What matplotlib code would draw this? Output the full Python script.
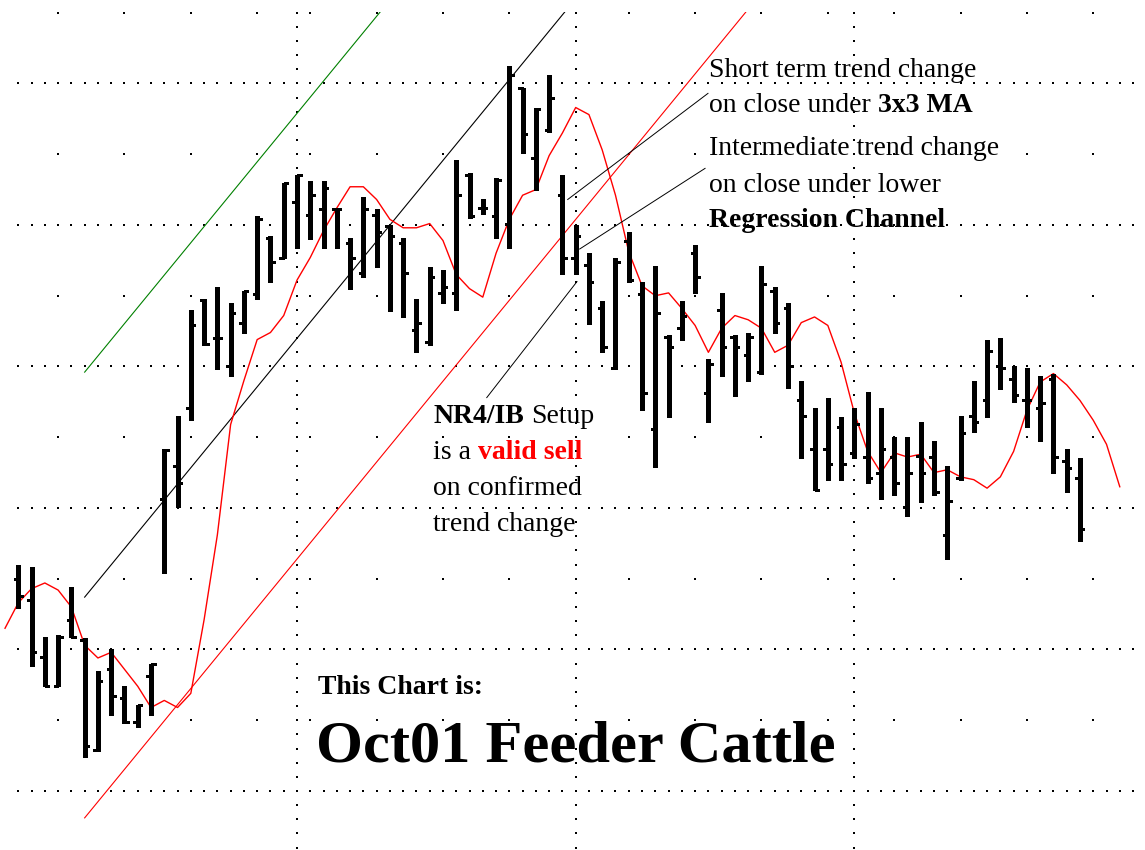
#!/usr/bin/env python3
# -*- coding: utf-8 -*-

import matplotlib
matplotlib.use('Agg')
import matplotlib.pyplot as plt
import numpy as np

# 日足 (bar index 0..80)
highs = [87.60, 87.58, 87.09, 87.10, 87.44, 87.08, 86.85, 87.00, 86.74, 86.61, 86.90,
         88.42, 88.65, 89.40, 89.48, 89.56, 89.45, 89.53, 90.06, 89.92, 90.30,
         90.35, 90.31, 90.31, 90.12, 89.91, 90.20, 90.11, 90.00, 89.91, 89.48,
         89.70, 89.68, 90.46, 90.37, 90.18, 90.33, 91.12, 90.97, 90.83, 91.06,
         90.35, 90.00, 89.80, 89.46, 89.77, 89.95, 89.60, 89.71, 89.22, 89.46,
         89.86, 89.05, 89.52, 89.22, 89.24, 89.71, 89.56, 89.45, 88.90, 88.71,
         88.78, 88.64, 88.71, 88.82, 88.71, 88.50, 88.50, 88.61, 88.47, 88.30,
         88.65, 88.90, 89.19, 89.20, 89.00, 88.99, 88.93, 88.95, 88.42, 88.35]
lows = [87.29, 86.88, 86.74, 86.74, 87.09, 86.24, 86.28, 86.54, 86.48, 86.45, 86.54,
        87.54, 88.01, 88.62, 89.15, 88.98, 88.93, 89.24, 89.48, 89.60, 89.77,
        89.84, 89.90, 89.84, 89.84, 89.55, 89.63, 89.70, 89.39, 89.35, 89.10,
        89.15, 89.45, 89.40, 90.05, 90.08, 89.91, 89.84, 90.51, 90.25, 90.66,
        89.65, 89.65, 89.30, 89.10, 88.98, 89.60, 88.69, 88.29, 88.64, 89.19,
        89.52, 88.61, 88.93, 88.79, 88.90, 88.95, 89.24, 88.85, 88.35, 88.13,
        88.20, 88.20, 88.35, 88.18, 88.06, 88.09, 87.94, 88.04, 88.09, 87.64,
        88.20, 88.54, 88.64, 88.84, 88.75, 88.57, 88.47, 88.25, 88.11, 87.77]
opens = [87.50, 87.35, 86.95, 86.74, 87.21, 87.07, 86.29, 86.86, 86.66, 86.49, 86.81,
         88.06, 88.30, 88.71, 89.47, 89.20, 89.00, 89.31, 89.51, 89.91, 89.77,
         90.16, 90.07, 90.11, 90.11, 89.87, 89.66, 90.07, 89.99, 89.87, 89.26,
         89.17, 89.52, 89.52, 90.35, 90.12, 90.06, 90.01, 90.97, 90.47, 90.67,
         90.21, 89.77, 89.72, 89.41, 88.99, 89.89, 89.51, 88.56, 89.21, 89.27,
         89.80, 88.81, 89.40, 89.21, 89.08, 88.96, 89.53, 89.41, 88.76, 88.42,
         88.42, 88.57, 88.39, 88.36, 88.25, 88.36, 88.01, 88.37, 88.36, 87.81,
         88.21, 88.65, 88.76, 89.00, 88.91, 88.76, 88.71, 88.91, 88.33, 88.21]
closes = [87.38, 86.98, 86.74, 87.09, 87.09, 86.32, 86.78, 86.67, 86.49, 86.61, 86.90,
          88.41, 88.18, 89.29, 89.16, 89.20, 89.38, 89.53, 90.04, 89.74, 90.30,
          90.35, 90.21, 90.26, 90.11, 89.77, 90.11, 89.95, 89.92, 89.66, 89.31,
          89.63, 89.56, 90.21, 90.06, 90.12, 90.32, 91.06, 90.64, 90.82, 90.90,
          89.77, 89.92, 89.60, 89.14, 89.74, 89.61, 88.81, 89.38, 89.14, 89.36,
          89.63, 89.02, 89.14, 89.14, 89.21, 89.58, 89.31, 89.00, 88.65, 88.13,
          88.31, 88.31, 88.59, 88.21, 88.42, 88.18, 88.25, 88.25, 88.11, 88.05,
          88.53, 88.61, 89.11, 88.99, 88.80, 88.76, 88.74, 88.36, 88.28, 87.85]

# 3x3 MA (index -1..83, 3本先へずらしてある)
ma_start = -1
ma_vals = [87.15, 87.33, 87.43, 87.47, 87.42, 87.30, 87.03, 86.94, 86.98, 86.86,
           86.74, 86.59, 86.64, 86.59, 86.69, 87.21, 87.81, 88.59, 88.90, 89.19,
           89.24, 89.36, 89.61, 89.77, 89.96, 90.12, 90.27, 90.27, 90.18, 90.04,
           89.98, 89.98, 90.01, 89.89, 89.65, 89.55, 89.49, 89.80, 90.04, 90.21,
           90.25, 90.49, 90.65, 90.83, 90.78, 90.53, 90.21, 89.81, 89.57, 89.50,
           89.52, 89.41, 89.29, 89.10, 89.27, 89.36, 89.33, 89.27, 89.10, 89.15,
           89.31, 89.35, 89.29, 89.03, 88.67, 88.40, 88.25, 88.39, 88.36, 88.38,
           88.25, 88.27, 88.22, 88.20, 88.14, 88.22, 88.40, 88.69, 88.89, 88.95,
           88.87, 88.76, 88.62, 88.45, 88.15]

# 回帰チャネル
chan_start = 5
chan_end = 62
chan_mid0 = 87.37
chan_slope = 0.1143
chan_upper = 1.59
chan_lower = 1.56

# グリッド
major_levels = [86, 87, 88, 89, 90, 91]
minor_levels = [86.5, 87.5, 88.5, 89.5, 90.5, 91.5]
week_idx = [3, 8, 13, 18, 22, 27, 32, 37, 42, 46, 51, 56, 61, 66, 71, 76, 81]
month_idx = [21, 42, 63]

W, H = 1145, 850
SERIF = ['Liberation Serif', 'DejaVu Serif']

fig = plt.figure(figsize=(W / 100, H / 100), dpi=100)
fig.patch.set_facecolor('white')
ax = fig.add_axes([0, 0, 1, 838 / H])
ax.axis('off')
ax.set_xlim(-1.379, 84.9)
ax.set_ylim(85.583, 91.505)

# dotted grid
gx = np.arange(0, 85)
for lv in major_levels:
    ax.plot(gx, [lv] * len(gx), ls='none', marker='s', ms=1.5, mew=0, color='black', clip_on=False)
for lv in minor_levels:
    ax.plot(week_idx, [lv] * len(week_idx), ls='none', marker='s', ms=1.5, mew=0, color='black', clip_on=False)
gy = np.arange(85.6, 91.55, 0.1)
for m in month_idx:
    ax.plot([m] * len(gy), gy, ls='none', marker='s', ms=1.5, mew=0, color='black', clip_on=False)

# regression channel
cx = np.array([chan_start, chan_end])
cmid = chan_mid0 + chan_slope * (cx - chan_start)
ax.plot(cx, cmid, color='black', lw=0.8)
ax.plot(cx, cmid + chan_upper, color='#008000', lw=0.8)
ax.plot(cx, cmid - chan_lower, color='red', lw=0.8)

# moving average
ma_x = np.arange(ma_start, ma_start + len(ma_vals))
ax.plot(ma_x, ma_vals, color='red', lw=1.0)

# OHLC bars
idx = np.arange(len(highs))
ax.vlines(idx, lows, highs, color='black', lw=2.3, antialiased=False)
ax.hlines(opens, idx - 0.34, idx, color='black', lw=1.8, antialiased=False)
ax.hlines(closes, idx, idx + 0.34, color='black', lw=1.8, antialiased=False)

# annotation pointers
pointers = [((41.4, 90.18), (51.97, 90.93)),
            ((42.3, 89.83), (51.75, 90.40)),
            ((35.3, 88.78), (42.1, 89.60))]
for (x0, y0), (x1, y1) in pointers:
    ax.plot([x0, x1], [y0, y1], color='black', lw=0.7)

renderer = fig.canvas.get_renderer()


def put_line(x, y, parts, size=20):
    # parts: (text, weight, color) を左から順に並べる
    gap = 0.25 * size * 100 / 72
    for k, (s, w, c) in enumerate(parts):
        if k > 0:
            x += gap
        t = fig.text(x / W, 1 - y / H, s, fontsize=size, fontweight=w, color=c,
                     family=SERIF, ha='left', va='baseline')
        x += t.get_window_extent(renderer=renderer).width


put_line(709, 77, [('Short term trend change', 'normal', 'black')])
put_line(709, 112, [('on close under', 'normal', 'black'), ('3x3 MA', 'bold', 'black')])
put_line(709, 155, [('Intermediate trend change', 'normal', 'black')])
put_line(709, 192, [('on close under lower', 'normal', 'black')])
put_line(709, 227, [('Regression Channel', 'bold', 'black')])

put_line(433, 423, [('NR4/IB', 'bold', 'black'), ('Setup', 'normal', 'black')])
put_line(433, 459, [('is a', 'normal', 'black'), ('valid sell', 'bold', 'red')])
put_line(433, 495, [('on confirmed', 'normal', 'black')])
put_line(433, 531, [('trend change', 'normal', 'black')])

put_line(318, 694, [('This Chart is:', 'bold', 'black')])
put_line(316, 762, [('Oct01 Feeder Cattle', 'bold', 'black')], size=43.5)

fig.savefig('out.png', dpi=100, facecolor='white')
